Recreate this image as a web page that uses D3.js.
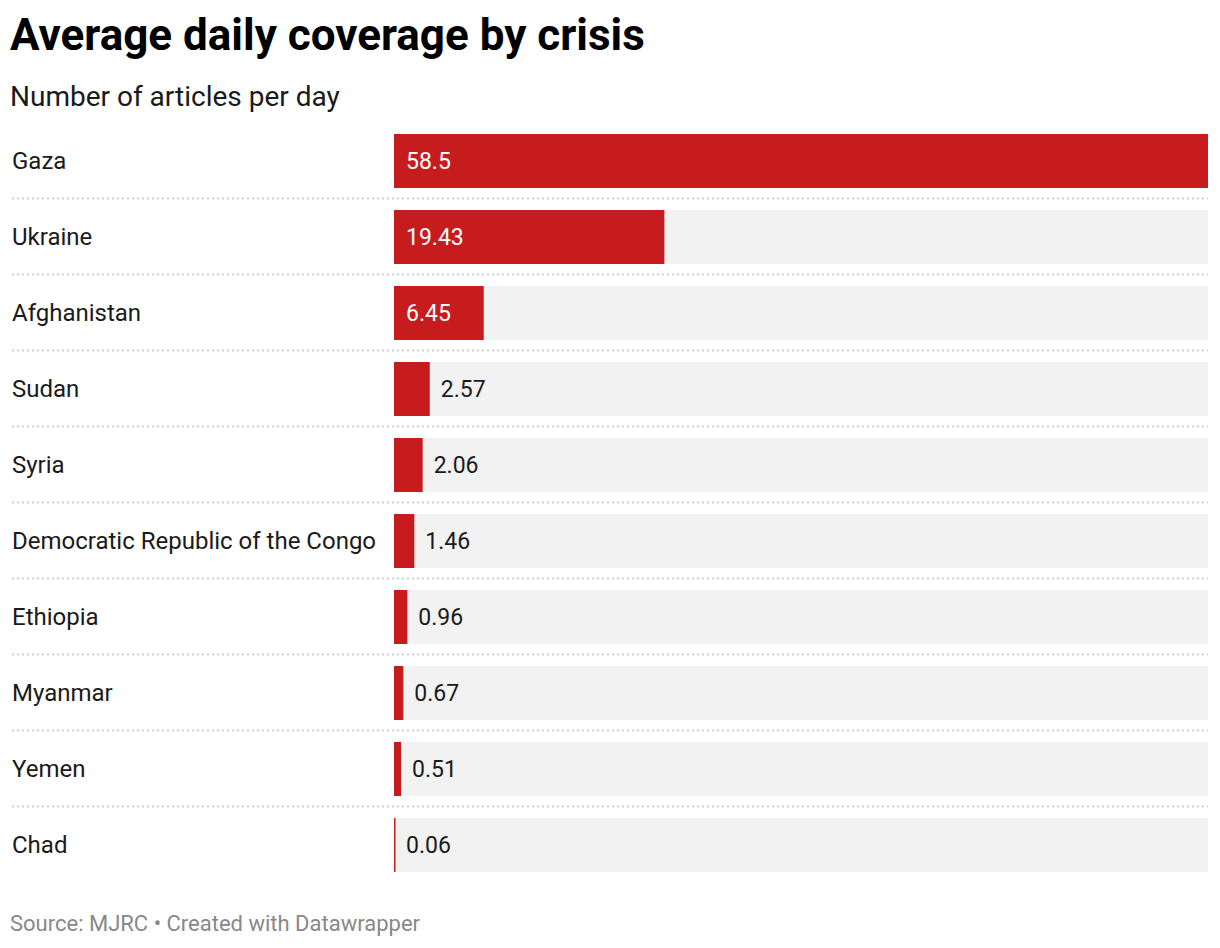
<!DOCTYPE html>
<html>
<head>
<meta charset="utf-8">
<script src="https://cdn.jsdelivr.net/npm/d3@7"></script>
<style>
  body { margin: 0; background: #fff; font-family: Roboto, "Noto Sans", sans-serif; }
  svg { display: block; }
</style>
</head>
<body>
<svg id="chart"></svg>
<script>
const crises = ["Gaza", "Ukraine", "Afghanistan", "Sudan", "Syria",
  "Democratic Republic of the Congo", "Ethiopia", "Myanmar", "Yemen", "Chad"];
const articles = [58.5, 19.43, 6.45, 2.57, 2.06, 1.46, 0.96, 0.67, 0.51, 0.06];
const valueLabels = ["58.5", "19.43", "6.45", "2.57", "2.06", "1.46", "0.96", "0.67", "0.51", "0.06"];

const W = 1220, H = 948;
const svg = d3.select("#chart").attr("width", W).attr("height", H);

const barLeft = 394, barRight = 1208;
const rowTop = 134, rowStep = 76, barH = 54;

const x = d3.scaleLinear().domain([0, d3.max(articles)]).range([barLeft, barRight]);
const y = d3.scaleBand()
  .domain(crises)
  .range([rowTop - (rowStep - barH) / 2, rowTop - (rowStep - barH) / 2 + rowStep * crises.length])
  .paddingInner((rowStep - barH) / rowStep)
  .paddingOuter((rowStep - barH) / rowStep / 2);

const data = crises.map((c, i) => ({ name: c, value: articles[i], label: valueLabels[i] }));

svg.append("text")
  .attr("x", 10).attr("y", 50)
  .attr("font-size", 44).attr("font-weight", 700).attr("fill", "#000")
  .text("Average daily coverage by crisis");

svg.append("text")
  .attr("x", 10).attr("y", 106)
  .attr("font-size", 28).attr("fill", "#1a1a1a")
  .text("Number of articles per day");

// dotted separators between rows
svg.selectAll(".sep")
  .data(crises.slice(0, -1))
  .join("line")
  .attr("class", "sep")
  .attr("x1", 12).attr("x2", barRight)
  .attr("y1", (d) => y(d) + y.bandwidth() + (rowStep - barH) / 2 - 0.5)
  .attr("y2", (d) => y(d) + y.bandwidth() + (rowStep - barH) / 2 - 0.5)
  .attr("stroke", "#cfcfcf")
  .attr("stroke-width", 2)
  .attr("stroke-dasharray", "2,3");

const rows = svg.selectAll(".row").data(data).join("g").attr("class", "row");

rows.append("rect")
  .attr("x", barLeft).attr("width", barRight - barLeft)
  .attr("y", (d) => y(d.name)).attr("height", y.bandwidth())
  .attr("fill", "#f2f2f2");

rows.append("rect")
  .attr("x", barLeft)
  .attr("width", (d) => Math.max(1.5, x(d.value) - barLeft))
  .attr("y", (d) => y(d.name)).attr("height", y.bandwidth())
  .attr("fill", "#c71c1e");

rows.append("text")
  .attr("x", 12)
  .attr("y", (d) => y(d.name) + y.bandwidth() / 2)
  .attr("dy", "0.35em")
  .attr("font-size", 24).attr("fill", "#1a1a1a")
  .text((d) => d.name);

rows.append("text")
  .attr("font-size", 23)
  .attr("y", (d) => y(d.name) + y.bandwidth() / 2)
  .attr("dy", "0.35em")
  .text((d) => d.label)
  .each(function (d) {
    const t = d3.select(this);
    const tw = this.getComputedTextLength();
    const bw = x(d.value) - barLeft;
    if (bw > tw + 24) {
      t.attr("x", barLeft + 12).attr("fill", "#fff");
    } else {
      t.attr("x", Math.max(x(d.value), barLeft + 1) + 11).attr("fill", "#1a1a1a");
    }
  });

svg.append("text")
  .attr("x", 10).attr("y", 931)
  .attr("font-size", 22).attr("fill", "#888")
  .text("Source: MJRC • Created with Datawrapper");
</script>
</body>
</html>
